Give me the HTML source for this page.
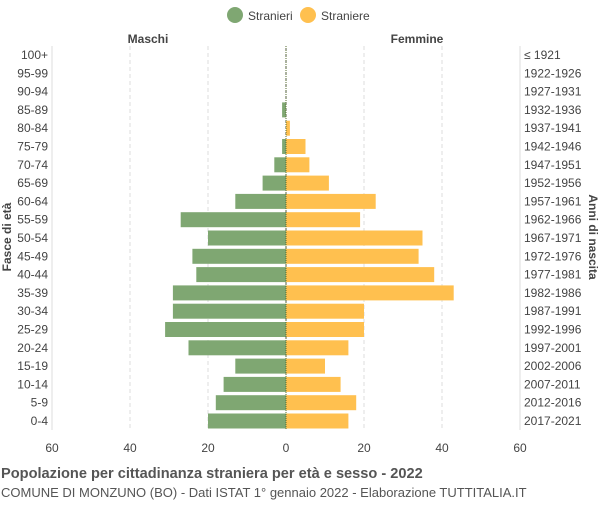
<!DOCTYPE html>
<html><head><meta charset="utf-8"><style>
body{margin:0;background:#fff;font-family:"Liberation Sans",sans-serif}
text{font-family:"Liberation Sans",sans-serif}
</style></head><body>
<svg id="c" width="600" height="500" xmlns="http://www.w3.org/2000/svg">
<rect width="600" height="500" fill="#fff"/>
<g>
<circle cx="235" cy="15" r="8" fill="#7fa772"/>
<text x="248" y="20" font-size="12" fill="#444">Stranieri</text>
<circle cx="308" cy="15" r="8" fill="#ffc04f"/>
<text x="321" y="20" font-size="12" fill="#444">Straniere</text>
</g>
<text x="148" y="43" font-size="12" font-weight="bold" fill="#444" text-anchor="middle">Maschi</text>
<text x="417" y="43" font-size="12" font-weight="bold" fill="#444" text-anchor="middle">Femmine</text>
<g id="grid"></g><g id="bars"></g><g id="labels"></g>
<text transform="translate(11,237) rotate(-90)" font-size="12" font-weight="bold" fill="#444" text-anchor="middle">Fasce di età</text>
<text transform="translate(589,237) rotate(90)" font-size="12" font-weight="bold" fill="#444" text-anchor="middle">Anni di nascita</text>
<text x="1" y="478" font-size="14.6" font-weight="bold" fill="#555">Popolazione per cittadinanza straniera per età e sesso - 2022</text>
<text x="1" y="497" font-size="13" fill="#555">COMUNE DI MONZUNO (BO) - Dati ISTAT 1° gennaio 2022 - Elaborazione TUTTITALIA.IT</text>
</svg>
<script>
const ages=["100+","95-99","90-94","85-89","80-84","75-79","70-74","65-69","60-64","55-59","50-54","45-49","40-44","35-39","30-34","25-29","20-24","15-19","10-14","5-9","0-4"];
const births=["≤ 1921","1922-1926","1927-1931","1932-1936","1937-1941","1942-1946","1947-1951","1952-1956","1957-1961","1962-1966","1967-1971","1972-1976","1977-1981","1982-1986","1987-1991","1992-1996","1997-2001","2002-2006","2007-2011","2012-2016","2017-2021"];
const males=[0,0,0,1,0,1,3,6,13,27,20,24,23,29,29,31,25,13,16,18,20];
const females=[0,0,0,0,1,5,6,11,23,19,35,34,38,43,20,20,16,10,14,18,16];
const ticks=[-60,-40,-20,0,20,40,60];
const NS="http://www.w3.org/2000/svg";
const cx=286,k=3.9,top0=55,step=18.3,bh=15;
const x=v=>cx+v*k, y=i=>top0+i*step;
function mk(t,a,p){const e=document.createElementNS(NS,t);for(const n in a)e.setAttribute(n,a[n]);p.appendChild(e);return e;}
const g=document.getElementById('grid'),b=document.getElementById('bars'),l=document.getElementById('labels');
ticks.forEach(t=>{
 const ln=mk('line',{x1:x(t),x2:x(t),y1:46,y2:430,stroke:t===0?'#555':'#ddd','stroke-dasharray':t===0?'1,2':'4,3'},g);
 
 
 const tx=mk('text',{x:x(t),y:452,'font-size':12,fill:'#444','text-anchor':'middle'},l);
 tx.textContent=Math.abs(t);
 
 
});
mk('line',{x1:52,x2:52,y1:46,y2:430,stroke:'#ddd'},g);
mk('line',{x1:520,x2:520,y1:46,y2:430,stroke:'#ddd'},g);
ages.forEach((a,i)=>{
 const yc=y(i);
 if(males[i]>0){const r=mk('rect',{x:x(-males[i]),y:yc-bh/2,width:males[i]*k,height:bh,fill:'#7fa772'},b);
 
 }
 if(females[i]>0){const r=mk('rect',{x:cx,y:yc-bh/2,width:females[i]*k,height:bh,fill:'#ffc04f'},b);
 
 }
 const t1=mk('text',{x:48,y:yc+4,'font-size':12,fill:'#444','text-anchor':'end'},l);t1.textContent=a;
 
 
 const t2=mk('text',{x:524,y:yc+4,'font-size':12,fill:'#444'},l);t2.textContent=births[i];
 
 
});
mk('line',{x1:cx,x2:cx,y1:46,y2:430,stroke:'#556b2f','stroke-dasharray':'1,1'},b);
</script>
</body></html>
